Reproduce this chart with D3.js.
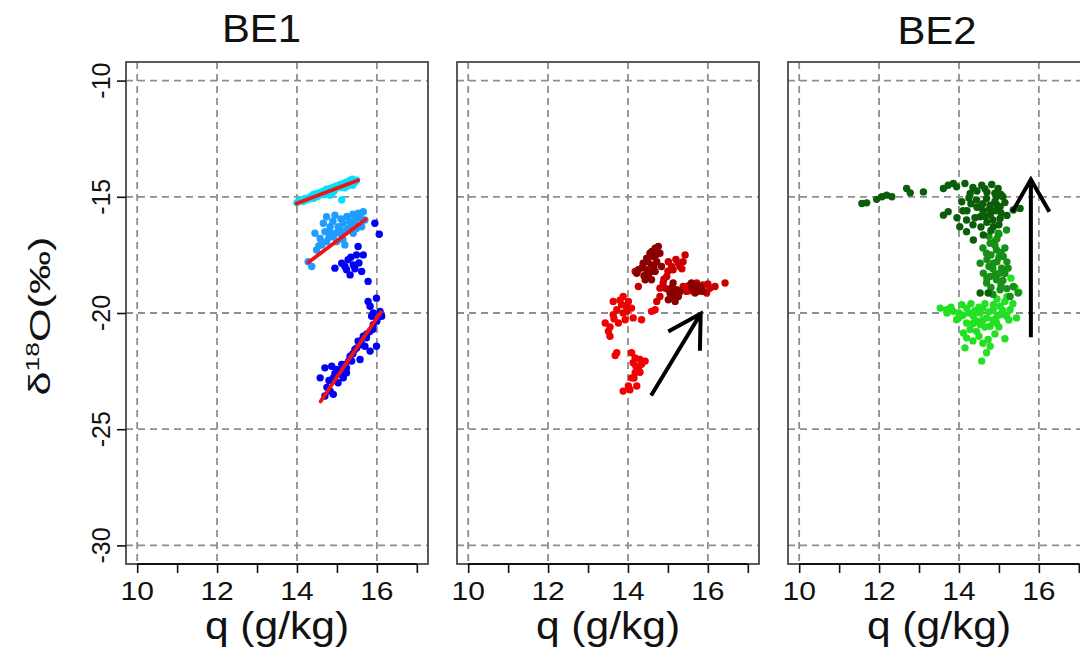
<!DOCTYPE html>
<html><head><meta charset="utf-8">
<script src="https://cdn.jsdelivr.net/npm/d3@7"></script>
<style>html,body{margin:0;padding:0;background:#fff;}svg{display:block;font-family:"Liberation Sans",Arial,sans-serif;}</style>
</head><body>
<script>
// ---------- data ----------
const panelTitles = ["BE1", "", "BE2"];
const xTicks = [10, 11, 12, 13, 14, 15, 16, 17];
const xTickLabels = ["10", "12", "14", "16"];
const yTicks = [-10, -15, -20, -25, -30];
const yTickLabels = ["-10", "-15", "-20", "-25", "-30"];
const xLabel = "q (g/kg)";

// BE1 (panel 1)
const be1Cyan = [[14.08,-15.14],[14.20,-15.07],[14.33,-15.00],[14.41,-14.90],[14.49,-14.86],[14.58,-14.81],[14.66,-14.76],[14.74,-14.67],[14.83,-14.64],[14.91,-14.59],[14.99,-14.53],[15.08,-14.47],[15.16,-14.43],[15.24,-14.36],[15.33,-14.29],[15.39,-14.24],[15.45,-14.36],[15.12,-15.14],[14.83,-14.93],[14.62,-14.90],[14.41,-15.07],[14.24,-15.14],[15.20,-14.61],[15.28,-14.53],[14.95,-14.71],[14.74,-14.81],[14.53,-14.96],[15.49,-14.29],[14.15,-15.20],[14.30,-15.10],[14.50,-15.00],[14.70,-14.90],[14.90,-14.80],[15.10,-14.60],[15.30,-14.40],[15.40,-14.50],[14.00,-15.25]];
const be1Sky = [[14.37,-18.00],[14.28,-17.79],[14.45,-16.57],[14.74,-15.86],[14.95,-15.79],[14.66,-16.14],[14.83,-16.29],[15.03,-16.29],[15.16,-16.14],[15.33,-16.07],[15.45,-15.93],[15.58,-15.79],[15.66,-15.64],[15.53,-15.71],[15.70,-16.00],[15.24,-16.43],[15.12,-16.64],[14.91,-16.71],[14.74,-16.93],[14.62,-17.07],[14.49,-17.29],[14.58,-16.79],[14.99,-16.93],[15.20,-17.07],[15.41,-16.57],[15.62,-16.29],[14.83,-16.50],[15.08,-16.43],[15.49,-16.36],[15.37,-16.21],[14.90,-16.05],[15.10,-15.95],[15.25,-15.85],[15.40,-15.75],[15.55,-15.90],[15.00,-16.55],[14.70,-16.50],[14.55,-17.10],[15.30,-16.35],[15.45,-16.05],[14.80,-16.75],[15.15,-16.85]];
const be1Blue = [[15.95,-16.14],[16.06,-16.61],[15.12,-17.86],[14.95,-18.07],[15.24,-18.14],[15.33,-18.36],[15.49,-17.50],[15.53,-17.14],[15.66,-17.50],[15.62,-18.21],[15.78,-18.64],[15.41,-17.93],[15.28,-17.71],[15.20,-18.00],[15.45,-18.10],[15.35,-17.60],[15.55,-17.85],[15.78,-19.50],[15.99,-19.36],[15.83,-19.71],[16.08,-19.93],[16.12,-20.14],[15.91,-20.00],[14.58,-22.79],[14.70,-22.36],[14.87,-22.29],[14.99,-22.43],[15.12,-22.21],[14.91,-22.79],[15.03,-23.00],[14.83,-23.36],[14.70,-23.57],[14.91,-23.50],[15.24,-22.57],[15.20,-22.21],[15.33,-21.86],[15.45,-21.57],[15.58,-22.00],[15.53,-21.21],[15.66,-21.00],[15.74,-21.07],[15.83,-20.79],[15.91,-20.50],[15.87,-20.14],[15.99,-21.43],[15.83,-21.64],[15.70,-21.43],[15.62,-21.36],[15.37,-22.07],[15.24,-22.36],[15.08,-22.64],[15.16,-22.79],[14.95,-22.60],[15.10,-22.45],[15.30,-22.05],[15.40,-21.75],[15.50,-21.50],[15.60,-21.20],[15.75,-20.90],[15.90,-20.70],[16.00,-20.35],[14.80,-22.90],[14.75,-23.20]];
const be1Fits = [[[13.99,-15.29],[15.53,-14.29]], [[14.28,-17.83],[15.72,-15.97]], [[14.59,-23.81],[16.10,-19.96]]];

// panel 2 (red)
const p2Red = [[13.88,-23.36],[14.01,-23.14],[14.22,-23.14],[14.09,-22.79],[14.18,-22.57],[14.26,-22.43],[14.34,-22.21],[14.43,-22.07],[14.30,-22.00],[14.18,-21.93],[14.09,-21.71],[14.13,-22.14],[13.72,-21.71],[13.68,-21.83],[13.55,-21.00],[13.51,-20.79],[13.43,-20.43],[13.76,-20.43],[13.93,-20.29],[14.13,-20.21],[14.34,-20.29],[13.63,-20.07],[13.72,-19.86],[13.63,-19.50],[13.84,-19.64],[13.88,-19.29],[14.01,-19.50],[14.09,-19.79],[13.88,-20.00],[13.97,-19.93],[14.59,-19.93],[14.68,-19.86],[13.80,-19.45],[13.95,-19.70],[13.65,-20.25],[13.55,-20.60],[14.20,-22.30],[14.15,-22.80],[14.05,-23.30],[14.30,-22.55]];
const p2Mid = [[14.26,-18.86],[14.18,-18.21],[14.80,-19.29],[14.80,-18.93],[14.88,-18.71],[14.97,-18.43],[15.13,-18.14],[15.26,-17.86],[15.38,-17.79],[15.43,-17.50],[15.30,-18.00],[15.01,-17.79],[15.09,-18.00],[15.38,-18.86],[15.55,-18.79],[15.72,-18.71],[15.88,-18.79],[16.05,-18.93],[16.18,-18.86],[16.43,-18.71],[15.97,-19.14],[15.76,-19.07],[14.72,-19.50],[15.47,-19.07],[14.90,-18.55],[15.00,-18.20],[15.50,-18.85],[15.85,-18.90],[16.00,-18.75],[15.20,-17.70],[15.35,-18.10],[14.95,-18.95],[15.60,-19.05]];
const p2Dark = [[14.47,-17.64],[14.55,-17.43],[14.68,-17.21],[14.76,-17.14],[14.63,-17.57],[14.80,-17.43],[14.38,-17.86],[14.26,-18.14],[14.22,-18.29],[14.47,-18.14],[14.59,-17.93],[14.72,-17.79],[14.51,-18.43],[14.59,-18.57],[14.43,-18.57],[14.68,-18.21],[14.84,-18.00],[15.13,-18.71],[15.22,-19.00],[15.05,-19.14],[15.13,-19.36],[15.01,-19.43],[15.26,-19.29],[15.18,-19.50],[15.05,-19.00],[15.68,-18.93],[15.80,-18.86],[15.59,-18.71],[15.68,-19.14],[15.88,-19.07],[14.60,-17.35],[14.70,-17.50],[14.50,-17.80],[14.35,-18.05],[14.55,-18.25],[14.65,-18.00],[15.10,-19.00],[15.20,-19.20],[15.10,-18.90],[15.70,-18.80],[15.75,-19.00],[15.60,-18.90],[14.40,-18.40],[15.30,-19.10]];
const p2Arrow = [[14.58,-23.55],[15.82,-20.03]];

// BE2 (panel 3, green)
const be2Lime = [[13.53,-19.79],[13.69,-19.86],[13.86,-19.93],[14.07,-19.64],[14.19,-19.79],[13.94,-20.29],[14.19,-20.43],[14.36,-20.14],[14.53,-20.00],[14.69,-20.21],[14.86,-19.86],[15.03,-19.71],[15.15,-19.50],[15.28,-19.86],[15.44,-20.21],[15.19,-20.14],[14.94,-20.43],[14.53,-20.50],[14.28,-20.71],[14.11,-20.86],[14.44,-20.79],[14.78,-20.57],[14.19,-21.07],[14.73,-21.14],[15.15,-21.11],[14.15,-21.50],[14.78,-21.43],[14.69,-21.71],[14.57,-22.07],[14.86,-19.64],[15.03,-20.07],[15.40,-18.90],[15.50,-19.10],[15.30,-18.50],[14.40,-19.90],[14.00,-20.00],[14.60,-20.30],[14.90,-20.90],[14.30,-19.60],[13.70,-20.00],[13.80,-19.75],[14.00,-20.20],[14.10,-20.10],[14.25,-20.00],[14.45,-20.35],[14.60,-19.80],[14.75,-19.95],[14.95,-20.15],[15.10,-19.90],[15.25,-20.30],[14.35,-20.45],[14.65,-20.60],[14.85,-20.30],[15.00,-20.60],[14.50,-21.00],[14.35,-21.20],[14.60,-21.30],[15.35,-19.60],[15.20,-19.30],[14.95,-19.40],[14.65,-19.60],[14.50,-19.75]];
const be2Mid = [[15.19,-16.43],[14.98,-16.57],[14.78,-17.00],[14.94,-17.29],[14.69,-17.43],[15.11,-17.57],[14.53,-17.86],[14.86,-17.86],[15.07,-18.07],[14.61,-18.29],[14.78,-18.43],[15.23,-18.07],[14.94,-18.57],[15.36,-18.86],[14.69,-18.71],[15.48,-19.14],[15.28,-19.29],[15.03,-19.00],[14.90,-16.90],[15.00,-17.60],[14.85,-18.10],[15.10,-18.60],[14.95,-16.80],[15.15,-17.20],[14.70,-17.70],[15.00,-18.30],[14.85,-19.20],[14.75,-16.70],[14.90,-17.10],[15.05,-17.40],[14.80,-17.50],[14.95,-17.80],[14.75,-18.00],[14.90,-18.35],[15.05,-18.80],[14.80,-18.90],[15.15,-18.30],[15.00,-16.60],[14.60,-17.20],[15.20,-17.80],[14.70,-18.50],[15.20,-18.95]];
const be2Dark = [[11.57,-15.29],[11.69,-15.26],[11.94,-15.11],[12.07,-15.00],[12.19,-14.93],[12.32,-15.00],[12.69,-14.64],[12.78,-14.83],[13.11,-14.79],[13.61,-14.64],[13.73,-14.50],[13.86,-14.43],[13.94,-14.57],[14.15,-14.43],[14.57,-14.50],[14.82,-14.47],[14.98,-14.64],[14.28,-14.86],[14.07,-15.21],[14.44,-15.14],[14.69,-15.07],[14.94,-15.00],[14.53,-15.43],[14.78,-15.36],[15.03,-15.43],[15.53,-15.50],[15.36,-15.57],[13.61,-15.79],[13.73,-15.64],[14.19,-16.00],[14.53,-15.86],[14.78,-15.79],[15.03,-15.93],[14.02,-16.29],[14.19,-16.50],[14.86,-16.29],[14.61,-16.64],[14.36,-16.86],[14.30,-15.30],[14.60,-15.60],[14.90,-15.60],[14.40,-15.90],[14.70,-16.10],[15.00,-16.20],[14.20,-15.60],[14.90,-15.20],[15.10,-15.00],[14.60,-15.30],[14.25,-15.05],[14.45,-15.45],[14.65,-15.85],[14.85,-16.00],[15.05,-15.70],[14.35,-16.20],[14.55,-16.30],[14.75,-15.55],[14.95,-15.35],[15.15,-15.25],[14.45,-14.75],[14.70,-14.80],[14.90,-14.85],[14.35,-14.60],[14.10,-15.60],[13.95,-15.90],[14.80,-16.45],[15.20,-15.80],[14.65,-14.65],[15.05,-14.90],[14.53,-19.14],[14.73,-19.14]];
const p3Arrow = [[15.80,-21.04],[15.80,-14.26]];

// ---------- layout ----------
const W = 1080, H = 652;
const panelLeft = [126, 457, 788], panelW = 302, plotTop = 62, plotBottom = 564;
const svg = d3.select("body").append("svg").attr("width", W).attr("height", H);

const panels = [
  {series: [{d: be1Cyan, c: "#00e1ff"}, {d: be1Sky, c: "#1f9dff"}, {d: be1Blue, c: "#0000f5"}], fits: be1Fits, arrow: null, yaxis: true},
  {series: [{d: p2Red, c: "#f00000"}, {d: p2Mid, c: "#cc0000"}, {d: p2Dark, c: "#8a0000"}], fits: [], arrow: p2Arrow, yaxis: false},
  {series: [{d: be2Lime, c: "#22e022"}, {d: be2Mid, c: "#169016"}, {d: be2Dark, c: "#0a5e0a"}], fits: [], arrow: p3Arrow, yaxis: false}
];
const titlePos = [[261.5, 42], null, [937, 44]];

panels.forEach((p, i) => {
  const L = panelLeft[i];
  const x = d3.scaleLinear().domain([9.72, 17.28]).range([L, L + panelW]);
  const y = d3.scaleLinear().domain([-30.8, -9.2]).range([plotBottom, plotTop]);
  const g = svg.append("g");

  // grid
  g.selectAll(".vg").data(xTickLabels.map(Number)).enter().append("line")
    .attr("x1", d => x(d)).attr("x2", d => x(d)).attr("y1", plotTop).attr("y2", plotBottom)
    .attr("stroke", "#8e8e8e").attr("stroke-width", 1.8).attr("stroke-dasharray", "7,5");
  g.selectAll(".hg").data(yTicks).enter().append("line")
    .attr("y1", d => y(d)).attr("y2", d => y(d)).attr("x1", L).attr("x2", L + panelW)
    .attr("stroke", "#8e8e8e").attr("stroke-width", 1.8).attr("stroke-dasharray", "7,5");

  // points
  p.series.forEach(s => {
    g.append("g").selectAll("circle").data(s.d).enter().append("circle")
      .attr("cx", d => x(d[0])).attr("cy", d => y(d[1])).attr("r", 3.7).attr("fill", s.c);
  });
  // fit lines
  p.fits.forEach(f => {
    g.append("line").attr("x1", x(f[0][0])).attr("y1", y(f[0][1])).attr("x2", x(f[1][0])).attr("y2", y(f[1][1]))
      .attr("stroke", "#f01414").attr("stroke-width", 3.8).attr("stroke-linecap", "round");
  });
  // arrow
  if (p.arrow) {
    const x0 = x(p.arrow[0][0]), y0 = y(p.arrow[0][1]), x1 = x(p.arrow[1][0]), y1 = y(p.arrow[1][1]);
    const ang = Math.atan2(y0 - y1, x0 - x1), len = 37, a = Math.PI / 6;
    const path = d3.path();
    path.moveTo(x0, y0); path.lineTo(x1, y1);
    path.moveTo(x1 + len * Math.cos(ang + a), y1 + len * Math.sin(ang + a));
    path.lineTo(x1, y1);
    path.lineTo(x1 + len * Math.cos(ang - a), y1 + len * Math.sin(ang - a));
    g.append("path").attr("d", path.toString()).attr("fill", "none").attr("stroke", "#000")
      .attr("stroke-width", 4).attr("stroke-linejoin", "miter");
  }
  // box
  g.append("rect").attr("x", L).attr("y", plotTop).attr("width", panelW).attr("height", plotBottom - plotTop)
    .attr("fill", "none").attr("stroke", "#4a4a4a").attr("stroke-width", 1.8);

  // x axis
  const xa = g.append("g").attr("transform", `translate(0,${plotBottom})`)
    .call(d3.axisBottom(x).tickValues(xTicks).tickSize(9).tickFormat(""));
  xa.select(".domain").attr("d", `M${x(10)},0H${x(17)}`).attr("stroke", "#111").attr("stroke-width", 1.8);
  xa.selectAll(".tick line").attr("stroke", "#111").attr("stroke-width", 1.6);
  xTickLabels.forEach(t => {
    g.append("text").attr("transform", `translate(${x(+t)},600) scale(1.2,1)`)
      .attr("text-anchor", "middle").attr("font-size", 25).attr("fill", "#111").text(t);
  });
  g.append("text").attr("transform", `translate(${L + panelW / 2},639) scale(1.12,1)`)
    .attr("text-anchor", "middle").attr("font-size", 38).attr("fill", "#111").text(xLabel);

  // y axis (only first panel)
  if (p.yaxis) {
    const ya = g.append("g").attr("transform", `translate(${L},0)`)
      .call(d3.axisLeft(y).tickValues(yTicks).tickSize(9).tickFormat(""));
    ya.select(".domain").remove();
    ya.selectAll(".tick line").attr("stroke", "#111").attr("stroke-width", 1.6);
    yTicks.forEach((t, k) => {
      g.append("text").attr("transform", `translate(110,${y(t)}) rotate(-90)`)
        .attr("text-anchor", "middle").attr("font-size", 25).attr("fill", "#111").text(yTickLabels[k]);
    });
  }
  if (titlePos[i]) {
    svg.append("text").attr("transform", `translate(${titlePos[i][0]},${titlePos[i][1]}) scale(1.1,1)`)
      .attr("text-anchor", "middle").attr("font-size", 38).attr("fill", "#111").text(panelTitles[i]);
  }
});

// y-axis title
const yt = svg.append("text").attr("transform", "translate(50,316) rotate(-90) scale(1.2,0.83)")
  .attr("text-anchor", "middle").attr("font-size", 36).attr("fill", "#111");
yt.append("tspan").text("δ");
yt.append("tspan").attr("font-size", 22).attr("dy", -13).text("18");
yt.append("tspan").attr("dy", 13).text("O(‰)");
</script>
</body></html>
